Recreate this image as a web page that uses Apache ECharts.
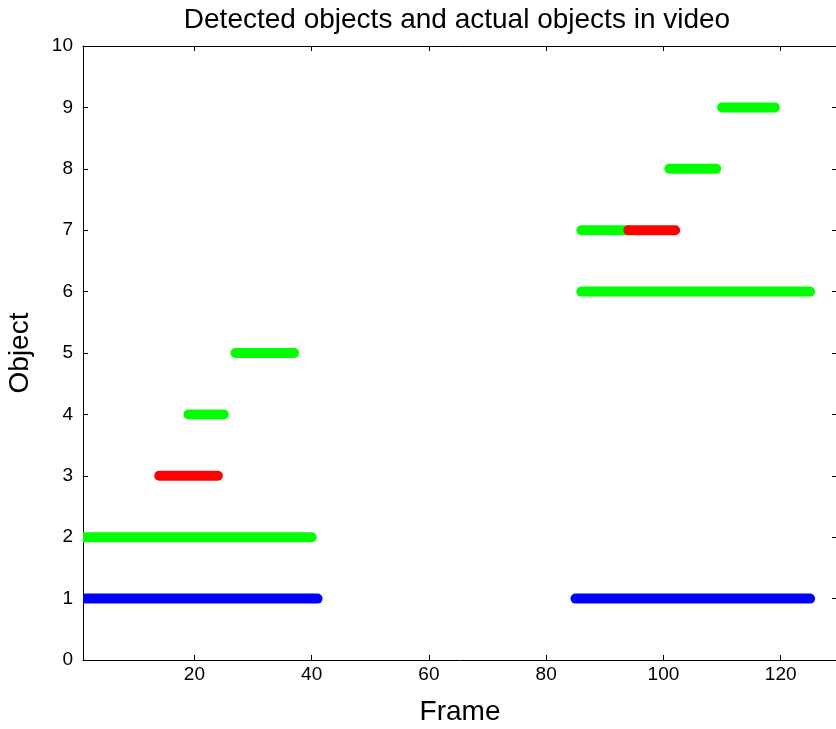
<!DOCTYPE html>
<html>
<head>
<meta charset="utf-8">
<script src="https://cdn.jsdelivr.net/npm/echarts@6/dist/echarts.min.js"></script>
<style>
html,body{margin:0;padding:0;background:#fff;}
#chart{width:836px;height:729px;}
</style>
</head>
<body>
<div id="chart"></div>
<script>
// Segments: object row, start frame, end frame, kind
const segObject = [1, 1, 2, 3, 4, 5, 6, 7, 7, 8, 9];
const segStart  = [1, 85, 1, 14, 19, 27, 86, 86, 94, 101, 110];
const segEnd    = [41, 125, 40, 24, 25, 37, 125, 94, 102, 109, 119];
const segKind   = ['actual','actual','detected','false','detected','detected','detected','detected','false','detected','detected'];
const kindOrder = ['actual', 'detected', 'false'];
const kindColors = {actual: '#0000ff', detected: '#00ff00', false: '#ff0000'};
const xTicks = [20, 40, 60, 80, 100, 120];
const xMin = 1, xMax = 129.6;
const yMin = 0, yMax = 10;

const FONT = 'Liberation Sans, Arial, Helvetica, sans-serif';

const series = kindOrder.map((kind, k) => ({
  type: 'custom',
  name: kind,
  clip: true,
  silent: true,
  animation: false,
  z: 2 + k,
  encode: {x: [0, 1], y: 2},
  data: segObject.map((obj, i) => [segStart[i], segEnd[i], obj, segKind[i]])
                 .filter(r => r[3] === kind)
                 .map(r => [r[0], r[1], r[2]]),
  renderItem: function (params, api) {
    const p1 = api.coord([api.value(0), api.value(2)]);
    const p2 = api.coord([api.value(1), api.value(2)]);
    return {
      type: 'line',
      shape: {x1: p1[0], y1: p1[1], x2: p2[0], y2: p2[1]},
      style: {stroke: kindColors[kind], lineWidth: 10, lineCap: 'round', fill: null}
    };
  }
}));

const baseAxisLine = {show: true, onZero: false, lineStyle: {color: '#000', width: 1}};
const chart = echarts.init(document.getElementById('chart'), null, {renderer: 'canvas'});
chart.setOption({
  animation: false,
  backgroundColor: '#fff',
  title: {
    text: 'Detected objects and actual objects in video',
    left: 452, top: 1, textAlign: 'center',
    textStyle: {fontFamily: FONT, fontSize: 28, fontWeight: 'normal', color: '#000'}
  },
  grid: {left: 83, top: 46, right: -1, bottom: 69, containLabel: false, outerBoundsMode: 'none'},
  xAxis: [{
    type: 'value', min: xMin, max: xMax, position: 'bottom',
    name: 'Frame', nameLocation: 'middle', nameGap: 38,
    nameTextStyle: {fontFamily: FONT, fontSize: 28, color: '#000'},
    axisLine: baseAxisLine,
    axisTick: {show: true, inside: true, length: 5, lineStyle: {color: '#000'}, customValues: xTicks},
    axisLabel: {fontFamily: FONT, fontSize: 19, color: '#000', margin: 5, customValues: xTicks},
    splitLine: {show: false}
  }, {
    type: 'value', min: xMin, max: xMax, position: 'top',
    axisLine: baseAxisLine,
    axisTick: {show: true, inside: true, length: 5, lineStyle: {color: '#000'}, customValues: xTicks},
    axisLabel: {show: false, customValues: xTicks},
    splitLine: {show: false}
  }],
  yAxis: [{
    type: 'value', min: yMin, max: yMax, interval: 1, position: 'left',
    name: 'Object', nameLocation: 'middle', nameGap: 49, nameRotate: 90,
    nameTextStyle: {fontFamily: FONT, fontSize: 28, color: '#000'},
    axisLine: baseAxisLine,
    axisTick: {show: true, inside: true, length: 5, lineStyle: {color: '#000'}},
    axisLabel: {fontFamily: FONT, fontSize: 19, color: '#000', margin: 10},
    splitLine: {show: false}
  }, {
    type: 'value', min: yMin, max: yMax, interval: 1, position: 'right',
    axisLine: baseAxisLine,
    axisTick: {show: true, inside: true, length: 5, lineStyle: {color: '#000'}},
    axisLabel: {show: false},
    splitLine: {show: false}
  }],
  series: series
});
</script>
</body>
</html>
